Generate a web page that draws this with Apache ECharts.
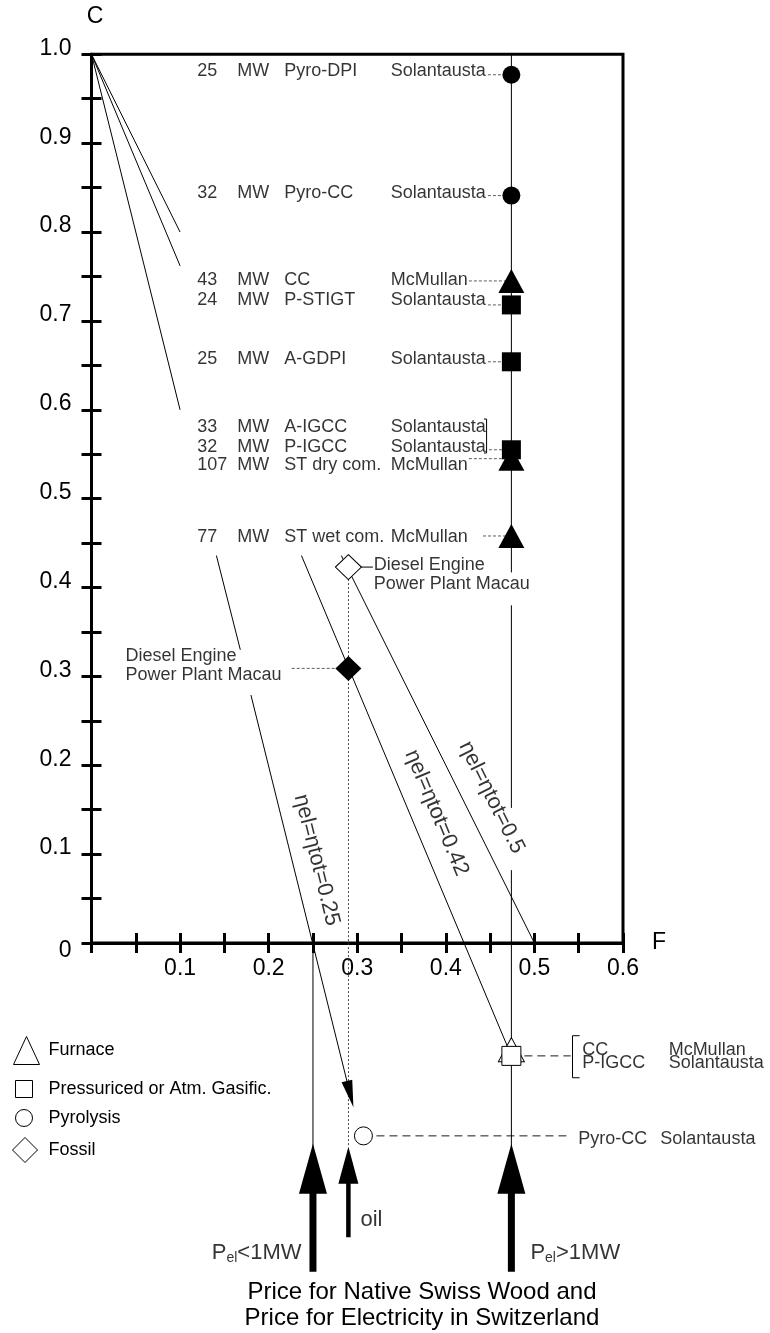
<!DOCTYPE html>
<html>
<head>
<meta charset="utf-8">
<script src="https://cdn.jsdelivr.net/npm/echarts@6.0.0/dist/echarts.min.js"></script>
<style>
  html, body { margin: 0; padding: 0; background: #fff; }
  #chart { width: 770px; height: 1333px; }
</style>
</head>
<body>
<div id="chart"></div>
<script>
const FONT = '"Liberation Sans", Arial, Helvetica, sans-serif';

// ---- values (F = fuel price share, C = cost of electricity share) ----
const woodF = 0.474;   // price for native swiss wood, P_el > 1MW
const smallF = 0.25;   // P_el < 1MW
const oilF = 0.29;

// plants listed in the upper panel, all sitting on F = woodF
const plantMW     = ['25', '32', '43', '24', '25', '33', '32', '107', '77'];
const plantType   = ['Pyro-DPI', 'Pyro-CC', 'CC', 'P-STIGT', 'A-GDPI', 'A-IGCC', 'P-IGCC', 'ST dry com.', 'ST wet com.'];
const plantRef    = ['Solantausta', 'Solantausta', 'McMullan', 'Solantausta', 'Solantausta', 'Solantausta', 'Solantausta', 'McMullan', 'McMullan'];
const plantClass  = ['Pyrolysis', 'Pyrolysis', 'Furnace', 'Gasific', 'Gasific', '', 'Gasific', 'Furnace', 'Furnace'];
const plantC      = [0.977, 0.841, 0.745, 0.718, 0.654, null, 0.555, 0.545, 0.458];
// text rows (where the label sits, rows get squeezed where markers crowd)
const plantRowC   = [0.981, 0.844, 0.746, 0.7235, 0.657, 0.581, 0.5585, 0.538, 0.4565];
const leaderFromF = [0.4475, 0.4475, 0.426, 0.4475, 0.4475, null, 0.4487, 0.426, 0.442];

// fossil: diesel engine power plant Macau
const fossilHollow = [oilF, 0.423];
const fossilFilled = [oilF, 0.309];

// lower panel (hollow symbols)
const lowFurnace = [woodF, -0.120];
const lowGasific = [woodF, -0.127];
const lowPyro    = [0.307, -0.217];

// eta_el = eta_tot lines, broken where text crosses them
const eta025 = [[[0, 1], [0.1, 0.6]], [[0.141, 0.436], [0.168, 0.33]], [[0.18, 0.279], [0.292, -0.17]]];
const eta042 = [[[0, 1], [0.1, 0.762]], [[0.237, 0.436], [woodF, -0.127]]];
const eta050 = [[[0, 1], [0.1, 0.8]], [[0.282, 0.436], [0.5, 0]]];
const etaText = ['ηel=ηtot=0.25', 'ηel=ηtot=0.42', 'ηel=ηtot=0.5'];
const etaLabelAt = [[0.2542, 0.0934], [0.3896, 0.1463], [0.4517, 0.1637]];
const etaAngle = [-76, -67.3, -63.5];

// vertical wood price line pieces (C from, C to)
const woodLine = [[1.0, 0.417], [0.380, 0.152], [0.082, -0.254]];

// arrows at the bottom: [F, shaft bottom C, head centre C]
const arrowBig = [[smallF, -0.37, -0.254], [woodF, -0.37, -0.254]];
const arrowOil = [oilF, -0.331, -0.250];

// ---- build series data ----
const thin = [];
[eta025, eta042, eta050].forEach(s => s.forEach(seg => thin.push({ coords: seg })));
woodLine.forEach(p => thin.push({ coords: [[woodF, p[0]], [woodF, p[1]]] }));
thin.push({ coords: [[smallF, 0], [smallF, arrowBig[0][2]]] });
thin.push({ coords: [fossilHollow, [0.3177, 0.423]] });
thin.push({ coords: [[0.443, 0.5896], [0.446, 0.5896], [0.446, 0.5514], [0.443, 0.5514]] });
thin.push({ coords: [[0.551, -0.1043], [0.543, -0.1043], [0.543, -0.1516], [0.551, -0.1516]] });

const fineDash = [];
plantC.forEach((c, i) => {
  if (c !== null) fineDash.push({ coords: [[leaderFromF[i], c], [woodF, c]] });
});
fineDash.push({ coords: [[0.226, fossilFilled[1]], fossilFilled] });

const longDash = [
  { coords: [lowGasific, [0.541, lowGasific[1]]] },
  { coords: [lowPyro, [0.54, lowPyro[1]]] }
];

const dotted = [{ coords: [fossilHollow, [oilF, -0.2295]] }];

const shafts = arrowBig.map(a => ({ coords: [[a[0], a[1]], [a[0], a[2]]], lineStyle: { width: 7 } }));
shafts.push({ coords: [[arrowOil[0], arrowOil[1]], [arrowOil[0], arrowOil[2]]], lineStyle: { width: 4.5 } });

const heads = arrowBig.map(a => ({ value: [a[0], a[2]], symbolSize: [28, 50] }));
heads.push({ value: [arrowOil[0], arrowOil[2]], symbolSize: [20, 37] });
heads.push({ value: eta025[2][1], symbolSize: [11, 27], symbolRotate: -166 });

const hollow = { color: '#fff', borderColor: '#000', borderWidth: 1 };
const byClass = cls => plantC.map((c, i) => plantClass[i] === cls ? [woodF, c] : null).filter(Boolean);

const furnaceData = byClass('Furnace').concat([{ value: lowFurnace, itemStyle: hollow }]);
const gasificData = byClass('Gasific').concat([{ value: lowGasific, itemStyle: hollow, symbolSize: [19, 19] }]);
const pyroData = byClass('Pyrolysis').concat([{ value: lowPyro, itemStyle: hollow, symbolSize: 18 }]);
const fossilData = [{ value: fossilHollow, itemStyle: hollow }, fossilFilled];

// text annotations
const notes = plantMW.map((mw, i) => ({
  value: [0.1187, plantRowC[i]],
  label: { formatter: '{n|' + mw + '}{m|MW}{t|' + plantType[i] + '}{a|' + plantRef[i] + '}' }
}));
notes.push({ value: [0.5533, -0.1204], label: { formatter: '{t2|CC}{a|McMullan}' } });
notes.push({ value: [0.5533, -0.135], label: { formatter: '{t2|P-IGCC}{a|Solantausta}' } });
notes.push({ value: [0.549, -0.22], label: { formatter: '{u|Pyro-CC}{a|Solantausta}' } });
notes.push({ value: [0.3181, 0.4141], label: { formatter: 'Diesel Engine\nPower Plant Macau', lineHeight: 19 } });
notes.push({ value: [0.0378, 0.3123], label: { formatter: 'Diesel Engine\nPower Plant Macau', lineHeight: 19 } });
etaText.forEach((t, i) => notes.push({
  value: etaLabelAt[i],
  label: { formatter: t, position: 'inside', rotate: etaAngle[i], fontSize: 22 }
}));
notes.push({ value: [0.2376, -0.3488], label: { formatter: '{p|P}{s|el}{p|<1MW}', position: 'left' } });
notes.push({ value: [0.4949, -0.3488], label: { formatter: '{p|P}{s|el}{p|>1MW}' } });
notes.push({ value: [0.303, -0.3117], label: { formatter: '{p|oil}' } });

const linesSeries = (data, style) => ({
  type: 'lines', coordinateSystem: 'cartesian2d', xAxisIndex: 2, yAxisIndex: 2,
  polyline: true, silent: true, data: data,
  lineStyle: Object.assign({ color: '#000', width: 1, opacity: 1, curveness: 0 }, style)
});

const markSeries = (name, symbol, size, data) => ({
  name: name, type: 'scatter', xAxisIndex: 2, yAxisIndex: 2, clip: false,
  symbol: symbol, symbolSize: size, data: data,
  itemStyle: { color: '#000', opacity: 1 }
});

const legendOne = (name, icon, w, h, left, top, pad) => ({
  data: [{ name: name, icon: icon }], orient: 'vertical', left: left, top: top,
  padding: 0, itemWidth: w, itemHeight: h, selectedMode: false,
  itemStyle: { color: '#fff', borderColor: '#000', borderWidth: 1 },
  textStyle: { fontFamily: FONT, fontSize: 18, color: '#000', padding: [0, 0, 0, pad] }
});

const axisBlack = { lineStyle: { color: '#000', width: 3 } };
const gridBox = { left: 91.5, right: 147, top: 54.3 };

const chart = echarts.init(document.getElementById('chart'));

const option = {
  animation: false,
  backgroundColor: '#fff',
  textStyle: { fontFamily: FONT, color: '#000' },
  title: {
    text: 'Price for Native Swiss Wood and\nPrice for Electricity in Switzerland',
    left: 422, top: 1279, textAlign: 'center', padding: 0,
    textStyle: { fontFamily: FONT, fontSize: 24, lineHeight: 26, fontWeight: 'normal', color: '#000' }
  },
  legend: [
    legendOne('Furnace', 'triangle', 26, 28, 13, 1036, 4),
    legendOne('Pressuriced or Atm. Gasific.', 'rect', 17, 17, 15, 1080, 11),
    legendOne('Pyrolysis', 'circle', 17, 17, 15, 1109, 11),
    legendOne('Fossil', 'diamond', 25, 25, 12, 1137, 6)
  ],
  grid: [
    Object.assign({ bottom: 390, show: true, borderColor: '#000', borderWidth: 3, outerBoundsMode: 'none' }, gridBox),
    Object.assign({ bottom: 34.5, outerBoundsMode: 'none' }, gridBox)
  ],
  xAxis: [
    {
      gridIndex: 0, type: 'value', min: 0, max: 0.6, interval: 0.05, position: 'bottom',
      axisLine: axisBlack, splitLine: { show: false },
      axisTick: { inside: true, length: 10, lineStyle: { color: '#000', width: 3 } },
      axisLabel: {
        margin: 14, fontSize: 23, color: '#000', fontFamily: FONT,
        formatter: v => { const k = Math.round(v * 20); return (k % 2 || k === 0) ? '' : v.toFixed(1); }
      },
      name: 'F', nameLocation: 'end', nameGap: 29,
      nameTextStyle: { fontSize: 23, color: '#000', fontFamily: FONT, align: 'left', verticalAlign: 'middle' }
    },
    {
      gridIndex: 0, type: 'value', min: 0, max: 0.6, interval: 0.05, position: 'bottom',
      axisLine: axisBlack, splitLine: { show: false }, axisLabel: { show: false },
      axisTick: { inside: false, length: 10, lineStyle: { color: '#000', width: 3 } }
    },
    { gridIndex: 1, type: 'value', min: 0, max: 0.6, show: false }
  ],
  yAxis: [
    {
      gridIndex: 0, type: 'value', min: 0, max: 1, interval: 0.05, position: 'left',
      axisLine: axisBlack, splitLine: { show: false },
      axisTick: { inside: true, length: 10, lineStyle: { color: '#000', width: 3 } },
      axisLabel: {
        margin: 20, fontSize: 23, color: '#000', fontFamily: FONT,
        formatter: v => {
          const k = Math.round(v * 20);
          if (k % 2) return '';
          return k === 0 ? '{z|0}' : '{a|' + v.toFixed(1) + '}';
        },
        rich: {
          a: { fontSize: 23, verticalAlign: 'bottom', padding: [0, 0, 12, 0] },
          z: { fontSize: 23, verticalAlign: 'top', padding: [15, 0, 0, 0] }
        }
      },
      name: 'C', nameLocation: 'end', nameGap: 26,
      nameTextStyle: { fontSize: 23, color: '#000', fontFamily: FONT, align: 'center', verticalAlign: 'bottom', padding: [0, 0, 0, 7] }
    },
    {
      gridIndex: 0, type: 'value', min: 0, max: 1, interval: 0.05, position: 'left',
      axisLine: axisBlack, splitLine: { show: false }, axisLabel: { show: false },
      axisTick: { inside: false, length: 10, lineStyle: { color: '#000', width: 3 } }
    },
    { gridIndex: 1, type: 'value', min: -0.4, max: 1, show: false }
  ],
  series: [
    linesSeries(thin, {}),
    linesSeries(fineDash, { type: [3, 2], width: 0.8, color: '#333' }),
    linesSeries(longDash, { type: [8, 5], width: 0.9 }),
    linesSeries(dotted, { type: [2, 2], width: 0.9, color: '#333' }),
    linesSeries(shafts, {}),
    markSeries('arrows', 'triangle', 20, heads),
    markSeries('Furnace', 'triangle', [26, 24], furnaceData),
    markSeries('Pressuriced or Atm. Gasific.', 'rect', [19, 19], gasificData),
    markSeries('Pyrolysis', 'circle', 18, pyroData),
    markSeries('Fossil', 'diamond', [26, 25], fossilData),
    {
      type: 'scatter', xAxisIndex: 2, yAxisIndex: 2, clip: false, silent: true,
      symbolSize: 1, itemStyle: { color: 'rgba(0,0,0,0)' },
      data: notes,
      label: {
        show: true, position: 'right', distance: 0,
        fontFamily: FONT, fontSize: 18, color: '#000',
        rich: {
          n: { width: 40 }, m: { width: 47 }, t: { width: 106.5 }, a: {},
          t2: { width: 86.5 }, u: { width: 82 },
          p: { fontSize: 22, verticalAlign: 'middle' },
          s: { fontSize: 14, verticalAlign: 'bottom', padding: [10, 0, 0, 0] }
        }
      }
    }
  ]
};

chart.setOption(option);
</script>
</body>
</html>
